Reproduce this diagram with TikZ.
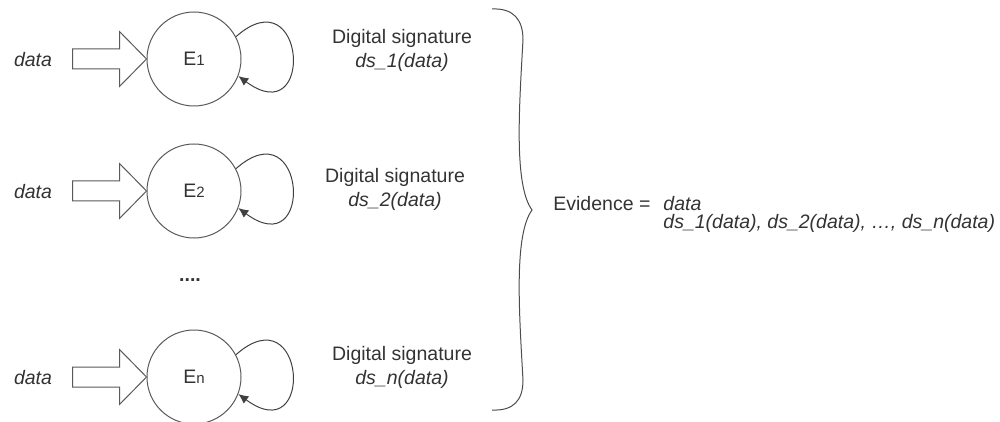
\documentclass[tikz,border=0pt]{standalone}
\usepackage{fontspec}
\setmainfont{Liberation Sans}
\usetikzlibrary{arrows.meta}

\begin{document}
\begin{tikzpicture}[x=0.5pt,y=-0.5pt,
            every node/.style={font={\fontsize{9.75}{12}\selectfont}, text=black!80, inner sep=0pt},
            entity/.style={circle, draw=black!65, line width=0.5pt, minimum size=47pt},
            dataname/.style={font={\fontsize{9.75}{12}\selectfont\itshape}},
            sig/.style={align=center},
            self loop/.style={-{Latex[length=5pt,width=4.5pt]}, draw=black!75, line width=0.5pt},
            brace/.style={draw=black!70, line width=0.5pt},
            pics/fat arrow/.style={code={
                \draw[draw=black!65, line width=0.5pt] (0,0) -- (-27,-27.5) -- (-27,-10)
                    -- (-74,-10) -- (-74,10) -- (-27,10) -- (-27,27.5) -- cycle;}}]
            \useasboundingbox (0,0) rectangle (1000,422);

            \node[entity] (E1) at (194,59) {E{\fontsize{7.5}{9}\selectfont 1}};
            \node[entity] (E2) at (194,191) {E{\fontsize{7.5}{9}\selectfont 2}};
            \node[entity] (En) at (194,377) {E{\fontsize{7.5}{9}\selectfont n}};

            \node[dataname] (d1) at (33,60) {data};
            \node[dataname] (d2) at (33,192) {data};
            \node[dataname] (dn) at (33,378) {data};

            \pic at (E1.west) {fat arrow};
            \pic at (E2.west) {fat arrow};
            \pic at (En.west) {fat arrow};

            \draw[self loop] (E1.28) .. controls +(70,-62) and +(77,57) .. (E1.-21);
            \draw[self loop] (E2.28) .. controls +(70,-62) and +(77,57) .. (E2.-21);
            \draw[self loop] (En.28) .. controls +(70,-62) and +(77,57) .. (En.-21);

            \node[font={\fontsize{9.75}{12}\selectfont\bfseries}] (dots) at (190,280) {....};

            \node[sig] (s1) at (402,50) {Digital signature\\\textit{ds\_1(data)}};
            \node[sig] (s2) at (395,189) {Digital signature\\\textit{ds\_2(data)}};
            \node[sig] (sn) at (402,367) {Digital signature\\\textit{ds\_n(data)}};

            % brace round the signatures
            \draw[brace] (492,9) .. controls (514,8) and (523,20) .. (523,40)
                .. controls (519,110) and (514,185) .. (532,210)
                .. controls (514,235) and (519,310) .. (523,380)
                .. controls (523,400) and (514,411) .. (492,410);

            \node[anchor=west] (ev) at (553,204) {Evidence =};
            \node[dataname, anchor=west] (ev0) at (663,204) {data};
            \node[dataname, anchor=west] (ev1) at (663,223) {ds\_1(data), ds\_2(data), …, ds\_n(data)};

        \end{tikzpicture}
\end{document}
